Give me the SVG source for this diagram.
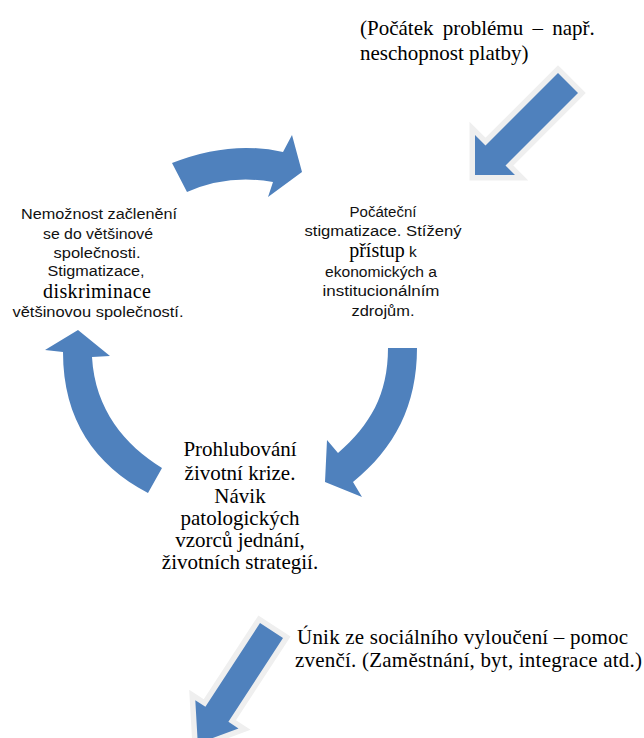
<svg xmlns="http://www.w3.org/2000/svg" width="644" height="738" viewBox="0 0 644 738">
<style>
.serif{font-family:"Liberation Serif","Times New Roman",serif;font-size:21px;fill:#000}
.sans{font-family:"Liberation Sans",Arial,sans-serif;font-size:15.5px;fill:#111}
.inl{font-family:"Liberation Serif","Times New Roman",serif;font-size:20px;fill:#000}
.arrow{fill:#4F81BD}
.glow{fill:#4F81BD;stroke:#efefef;stroke-width:11;stroke-linejoin:miter;paint-order:stroke}
</style>
<rect width="644" height="738" fill="#ffffff"/>
<g id="connectors">
  <path class="glow" d="M558,73 L578,93 L505.5,165.5 L515,175 L475,175 L475,135 L485.5,145.5 Z"/>
  <path class="arrow" d="M172,163 Q230,140 283,152 L292,135 L302,172 L268,197 L273,182 Q228,174 187,192 Z"/>
  <path class="arrow" d="M388,348 L417,348 C417,405 395,448 353,482 L362,497 L325,482 L327,440 L338,453 C370,425 388,395 388,348 Z"/>
  <path class="arrow" d="M63,352 C63,420 95,465 148,493 L162,468 C125,445 95,410 92,357 L110,356 L78,330 L45,350 Z"/>
  <path class="glow" d="M260,623 L283,638 L228.4,721.8 L238.5,728.4 L197.8,743.6 L195.3,700.2 L205.4,706.8 Z"/>
</g>
<g id="start">
  <text class="serif" x="360" y="35" word-spacing="4">(Počátek problému – např.</text>
  <text class="serif" x="360" y="60">neschopnost platby)</text>
</g>
<g id="stigmatizace" text-anchor="middle">
  <text class="sans" x="383" y="217" textLength="67" lengthAdjust="spacingAndGlyphs">Počáteční</text>
  <text class="sans" x="383" y="236" textLength="157" lengthAdjust="spacingAndGlyphs">stigmatizace. Stížený</text>
  <text x="383" y="257"><tspan class="inl">přístup</tspan><tspan class="sans"> k</tspan></text>
  <text class="sans" x="381" y="277" textLength="112" lengthAdjust="spacingAndGlyphs">ekonomických a</text>
  <text class="sans" x="381" y="296" textLength="117" lengthAdjust="spacingAndGlyphs">institucionálním</text>
  <text class="sans" x="383" y="316" textLength="63" lengthAdjust="spacingAndGlyphs">zdrojům.</text>
</g>
<g id="krize" text-anchor="middle">
  <text class="serif" x="240" y="456">Prohlubování</text>
  <text class="serif" x="240" y="480">životní krize.</text>
  <text class="serif" x="240" y="503">Návik</text>
  <text class="serif" x="240" y="525">patologických</text>
  <text class="serif" x="240" y="547">vzorců jednání,</text>
  <text class="serif" x="240" y="569">životních strategií.</text>
</g>
<g id="nemoznost" text-anchor="middle">
  <text class="sans" x="99" y="219" textLength="156" lengthAdjust="spacingAndGlyphs">Nemožnost začlenění</text>
  <text class="sans" x="98" y="239" textLength="110" lengthAdjust="spacingAndGlyphs">se do většinové</text>
  <text class="sans" x="97" y="258" textLength="87" lengthAdjust="spacingAndGlyphs">společnosti.</text>
  <text class="sans" x="96" y="276" textLength="97" lengthAdjust="spacingAndGlyphs">Stigmatizace,</text>
  <text class="inl" x="97" y="298" textLength="108">diskriminace</text>
  <text class="sans" x="98" y="317" textLength="171" lengthAdjust="spacingAndGlyphs">většinovou společností.</text>
</g>
<g id="unik">
  <text class="serif" x="297" y="644" textLength="331">Únik ze sociálního vyloučení – pomoc</text>
  <text class="serif" x="295" y="667" textLength="347">zvenčí. (Zaměstnání, byt, integrace atd.)</text>
</g>
</svg>
